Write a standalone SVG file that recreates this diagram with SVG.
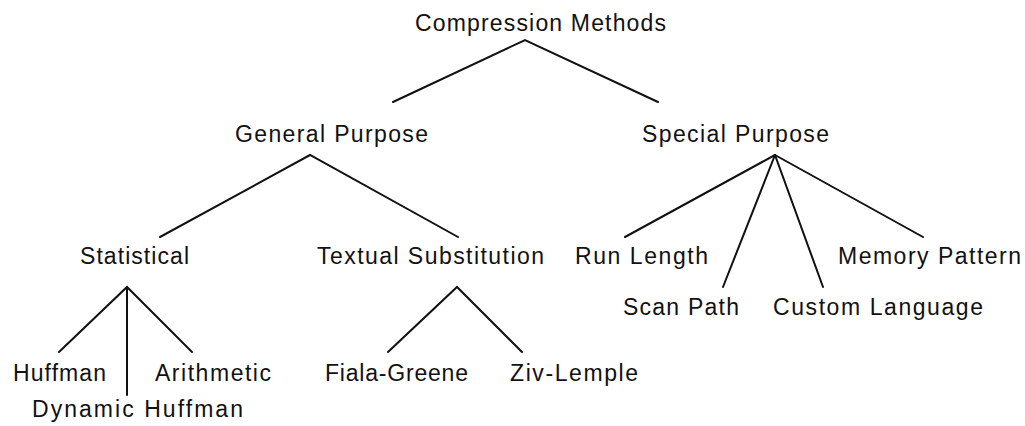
<svg xmlns="http://www.w3.org/2000/svg" width="1025" height="426" viewBox="0 0 1025 426">
  <style>
    .label { font-family: "Liberation Sans", Arial, sans-serif; font-size: 23px; fill: #111; }
    .edge { stroke: #111; stroke-width: 2; fill: none; stroke-linecap: round; }
  </style>
  <rect width="1025" height="426" fill="#fff"/>

  <!-- tree branches -->
  <g id="connectors">
    <polyline class="edge" points="393,102 525,40 658,102"/>
    <polyline class="edge" points="160,237 310,155 458,237"/>
    <line class="edge" x1="775" y1="155" x2="625" y2="237"/>
    <line class="edge" x1="775" y1="155" x2="723" y2="287"/>
    <line class="edge" x1="775" y1="155" x2="823" y2="287"/>
    <line class="edge" x1="775" y1="155" x2="923" y2="237"/>
    <polyline class="edge" points="388,352 457,287 522,352"/>
    <polyline class="edge" points="59,352 127,287 192,352"/>
    <line class="edge" x1="127" y1="287" x2="127" y2="395"/>
  </g>

  <g id="compression-methods"><text class="label" x="415" y="31" textLength="251" lengthAdjust="spacing">Compression Methods</text></g>
  <g id="general-purpose"><text class="label" x="235" y="142" textLength="193" lengthAdjust="spacing">General Purpose</text></g>
  <g id="special-purpose"><text class="label" x="642" y="142" textLength="187" lengthAdjust="spacing">Special Purpose</text></g>
  <g id="statistical"><text class="label" x="80" y="264" textLength="109" lengthAdjust="spacing">Statistical</text></g>
  <g id="textual-substitution"><text class="label" x="317" y="264" textLength="227" lengthAdjust="spacing">Textual Substitution</text></g>
  <g id="run-length"><text class="label" x="575" y="264" textLength="133" lengthAdjust="spacing">Run Length</text></g>
  <g id="memory-pattern"><text class="label" x="838" y="264" textLength="183" lengthAdjust="spacing">Memory Pattern</text></g>
  <g id="scan-path"><text class="label" x="623" y="315" textLength="116" lengthAdjust="spacing">Scan Path</text></g>
  <g id="custom-language"><text class="label" x="773" y="315" textLength="210" lengthAdjust="spacing">Custom Language</text></g>
  <g id="huffman"><text class="label" x="13" y="381" textLength="93" lengthAdjust="spacing">Huffman</text></g>
  <g id="arithmetic"><text class="label" x="155" y="381" textLength="116" lengthAdjust="spacing">Arithmetic</text></g>
  <g id="fiala-greene"><text class="label" x="325" y="381" textLength="143" lengthAdjust="spacing">Fiala-Greene</text></g>
  <g id="ziv-lemple"><text class="label" x="510" y="381" textLength="128" lengthAdjust="spacing">Ziv-Lemple</text></g>
  <g id="dynamic-huffman"><text class="label" x="32" y="417" textLength="211" lengthAdjust="spacing">Dynamic Huffman</text></g>
</svg>
